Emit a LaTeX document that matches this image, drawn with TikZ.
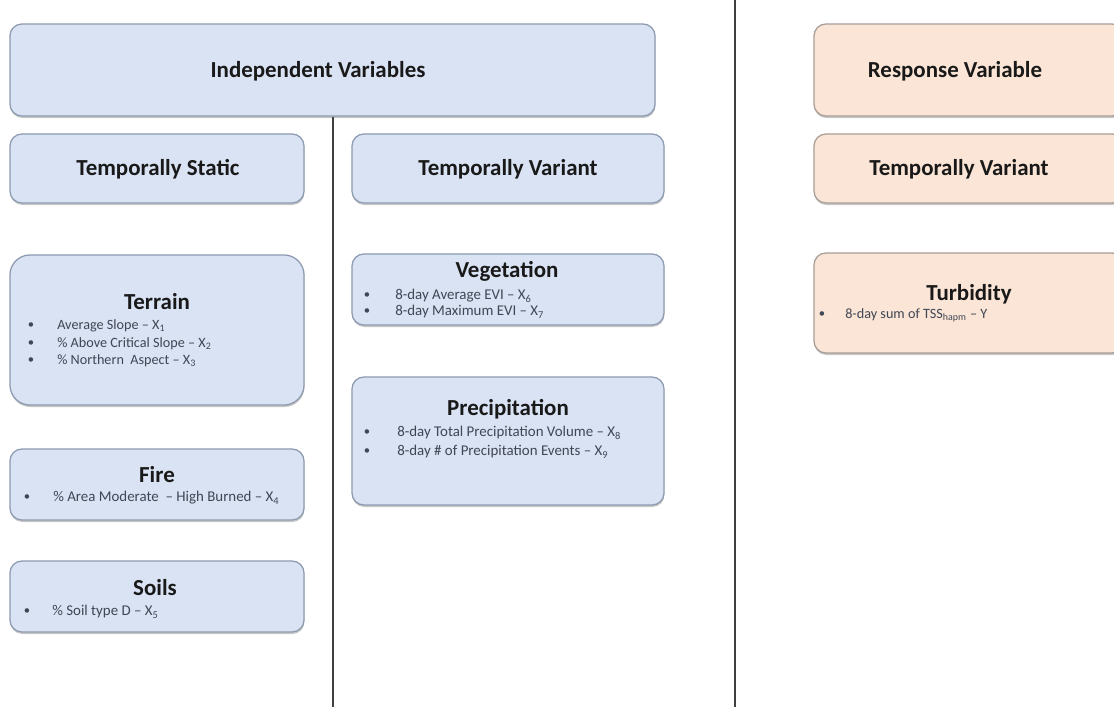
\documentclass[tikz,border=0pt]{standalone}
\usepackage{fontspec}
\setmainfont{Carlito}
\usetikzlibrary{shadows}

\definecolor{boxblue}{HTML}{DAE3F3}
\definecolor{boxorange}{HTML}{FBE5D6}
\definecolor{edgeblue}{HTML}{8D9BB0}
\definecolor{edgeorange}{HTML}{A89E98}
\definecolor{itemgray}{HTML}{3F4654}

\begin{document}
\begin{tikzpicture}[x=0.025cm,y=-0.025cm,
    panel/.style={draw=edgeblue,fill=boxblue,line width=0.9pt,rounded corners=0.3cm,
      drop shadow={fill=black!22,opacity=1,shadow xshift=0.01cm,shadow yshift=-0.05cm}},
    bluepanel/.style={panel},
    orangepanel/.style={panel,draw=edgeorange,fill=boxorange},
    heading/.style={font=\fontsize{16.3}{19}\selectfont\bfseries,text=black!90},
    item/.style={anchor=west,inner sep=0pt,font=\fontsize{10.6}{12}\selectfont,text=itemgray},
    smallitem/.style={item,font=\fontsize{10.1}{12}\selectfont},
    dot/.style={inner sep=0pt,font=\fontsize{9}{11}\selectfont,text=itemgray},
    divider/.style={draw=black!75,line width=1.3pt}]
  \useasboundingbox (0,0) rectangle (1114,707);

  % Header boxes
  \node[bluepanel,minimum width=16.125cm,minimum height=2.3cm] (indep) at (332.5,70) {};
  \node[heading] (indep-title) at (318,71) {Independent Variables};
  \node[orangepanel,minimum width=7.75cm,minimum height=2.3cm] (resp) at (969,70) {};
  \node[heading] (resp-title) at (955,71) {Response Variable};

  %% Second row
  \node[bluepanel,minimum width=7.35cm,minimum height=1.725cm] (static) at (157,168.5) {};
  \node[heading] (static-title) at (158,169) {Temporally Static};
  \node[bluepanel,minimum width=7.8cm,minimum height=1.725cm] (variant) at (508,168.5) {};
  \node[heading] (variant-title) at (508,169) {Temporally Variant};
  \node[orangepanel,minimum width=7.75cm,minimum height=1.725cm] (respvariant) at (969,168.5) {};
  \node[heading] (respvariant-title) at (959,169) {Temporally Variant};

  % Terrain
  \node[bluepanel,rounded corners=0.5cm,minimum width=7.35cm,minimum height=3.75cm] (terrain) at (157,330) {};
  \node[heading] (terrain-title) at (157,302) {Terrain};
  \foreach \yy/\txt [count=\i] in {326/{Average Slope -- X\textsubscript{1}},
      344/{\% Above Critical Slope -- X\textsubscript{2}},
      361/{\% Northern\ \ Aspect -- X\textsubscript{3}}} {
    \node[dot] (terrain-dot-\i) at (31,\yy) {\textbullet};
    \node[smallitem] (terrain-item-\i) at (57,\yy) {\txt};
  }

  % Fire
  \node[bluepanel,minimum width=7.35cm,minimum height=1.775cm] (fire) at (157,484.5) {};
  \node[heading] (fire-title) at (157,475) {Fire};
  \node[dot] (fire-dot) at (27,498) {\textbullet};
  \node[item] (fire-item) at (53,498) {\% Area Moderate\ \ -- High Burned -- X\textsubscript{4}};

  % Soils
  \node[bluepanel,minimum width=7.35cm,minimum height=1.775cm] (soils) at (157,596.5) {};
  \node[heading] (soils-title) at (155,588) {Soils};
  \node[dot] (soils-dot) at (27,612) {\textbullet};
  \node[item] (soils-item) at (52,612) {\% Soil type D -- X\textsubscript{5}};

  % Vegetation
  \node[bluepanel,minimum width=7.8cm,minimum height=1.775cm] (veg) at (508,289.5) {};
  \node[heading] (veg-title) at (507,271) {Vegetation};
  \foreach \yy/\txt [count=\i] in {296/{8-day Average EVI -- X\textsubscript{6}},
      312/{8-day Maximum EVI -- X\textsubscript{7}}} {
    \node[dot] (veg-dot-\i) at (367,\yy) {\textbullet};
    \node[item] (veg-item-\i) at (395,\yy) {\txt};
  }

  % Precipitation
  \node[bluepanel,minimum width=7.8cm,minimum height=3.2cm] (precip) at (508,441) {};
  \node[heading] (precip-title) at (508,409) {Precipitation};
  \foreach \yy/\txt [count=\i] in {433/{8-day Total Precipitation Volume -- X\textsubscript{8}},
      452/{8-day \# of Precipitation Events -- X\textsubscript{9}}} {
    \node[dot] (precip-dot-\i) at (367,\yy) {\textbullet};
    \node[item] (precip-item-\i) at (397,\yy) {\txt};
  }

  % Turbidity
  \node[orangepanel,minimum width=7.75cm,minimum height=2.5cm] (turb) at (969,303) {};
  \node[heading] (turb-title) at (969,294) {Turbidity};
  \node[dot] (turb-dot) at (822,315) {\textbullet};
  \node[smallitem] (turb-item) at (845,315) {8-day sum of TSS\textsubscript{hapm} -- Y};

  %% Dividers
  \coordinate (leftbottom) at (333,707);
  \coordinate (divtop) at (735,0);
  \coordinate (divbottom) at (735,707);
  \draw[divider] (indep.south -| leftbottom) -- (leftbottom);
  \draw[divider] (divtop) -- (divbottom);
\end{tikzpicture}
\end{document}
